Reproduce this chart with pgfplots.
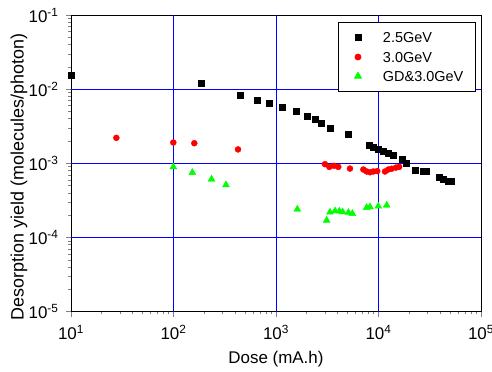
\documentclass[border=0pt]{standalone}
\usepackage{pgfplots}
\pgfplotsset{compat=1.18}
\usepackage{fontspec}
\setmainfont{Liberation Sans}
\definecolor{gridblue}{RGB}{0,0,255}
\begin{document}
\begin{tikzpicture}
\begin{axis}[
  scale only axis,
  width=410bp, height=296.4bp,
  xmode=log, ymode=log,
  log basis x=10, log basis y=10,
  xmin=10, xmax=100000,
  ymin=1e-5, ymax=1e-1,
  axis line style={black, line width=0.9bp},
  tick style={line width=0.8bp},
  tick align=outside,
  xtick pos=bottom, ytick pos=left,
  major tick length=5bp, minor tick length=2.8bp,
  xticklabel={10\textsuperscript{\pgfmathparse{int(round(\tick))}\pgfmathresult}},
  yticklabel={10\textsuperscript{\pgfmathparse{int(round(\tick))}\pgfmathresult}},
  every tick label/.append style={font=\fontsize{17}{20}\selectfont},
  xticklabel style={yshift=-5bp},
  yticklabel style={xshift=-4bp},
  xlabel={Dose (mA.h)},
  ylabel={Desorption yield (molecules/photon)},
  xlabel style={font=\fontsize{17}{20}\selectfont, at={(axis description cs:0.5,-0.159)}, anchor=center},
  ylabel style={font=\fontsize{18}{21}\selectfont, at={(axis description cs:-0.127,0.4545)}, anchor=center},
  legend style={at={(axis description cs:0.987,0.978)}, anchor=north east,
    font=\fontsize{14.5}{17}\selectfont, draw=black, line width=0.8bp,
    cells={anchor=west}, row sep=0bp, inner xsep=12bp, inner ysep=6bp,
    nodes={inner sep=0pt, text depth=0pt}},
  legend image code/.code={\path[draw=none, fill=none] (0bp,-9.6bp) rectangle (33bp,9.6bp); \draw[#1] plot coordinates {(8bp,0bp)};},
]
\addplot[gridblue, line width=1bp, forget plot] coordinates {(100,1e-5)(100,1e-1)};
\addplot[gridblue, line width=1bp, forget plot] coordinates {(1000,1e-5)(1000,1e-1)};
\addplot[gridblue, line width=1bp, forget plot] coordinates {(10000,1e-5)(10000,1e-1)};
\addplot[gridblue, line width=1bp, forget plot] coordinates {(10,1e-2)(100000,1e-2)};
\addplot[gridblue, line width=1bp, forget plot] coordinates {(10,1e-3)(100000,1e-3)};
\addplot[gridblue, line width=1bp, forget plot] coordinates {(10,1e-4)(100000,1e-4)};
\addplot[only marks, mark=square*, color=black, mark size=3bp] coordinates {
(10,0.0156)(185,0.0122)(443,0.00845)(657,0.00724)(861,0.00646)(1161,0.00571)
(1567,0.00504)(2020,0.00436)(2400,0.00393)(2730,0.00354)(3414,0.00297)(5040,0.00251)
(8130,0.00178)(8900,0.00166)(9960,0.00157)(11150,0.00147)(12470,0.00138)(13960,0.00129)
(17220,0.00113)(18840,0.00102)(22700,0.000813)(27400,0.00078)(29000,0.00078)
(39200,0.00066)(42900,0.000614)(48000,0.000582)(51000,0.00057)
};
\addlegendentry{2.5GeV}
\addplot[only marks, mark=*, color=red, mark size=3bp] coordinates {
(27.7,0.00222)(99.6,0.00192)(159.6,0.00188)(426,0.00155)(3000,0.00098)(3313,0.0009)
(3680,0.00093)(4055,0.0009)(5270,0.000855)(7110,0.00083)(7670,0.00078)(8260,0.000762)
(8900,0.00078)(9730,0.00079)(11570,0.00078)(12470,0.00083)(13430,0.00085)(14800,0.00088)
(15900,0.0009)
};
\addlegendentry{3.0GeV}
\addplot[only marks, mark=triangle*, color=green, mark size=4bp] coordinates {
(99.6,0.0009)(152.6,0.000755)(235,0.000613)(325,0.000514)(1614,0.000241)(3120,0.000171)
(3365,0.00022)(3770,0.000229)(4150,0.000227)(4470,0.000222)(5080,0.000218)(5560,0.000211)
(7670,0.000254)(8260,0.000259)(9960,0.000265)(12030,0.000273)
};
\addlegendentry{GD\&3.0GeV}
\end{axis}
\pgfresetboundingbox
\useasboundingbox (-71bp,-60.3bp) rectangle (421bp,311.7bp);
\end{tikzpicture}
\end{document}
